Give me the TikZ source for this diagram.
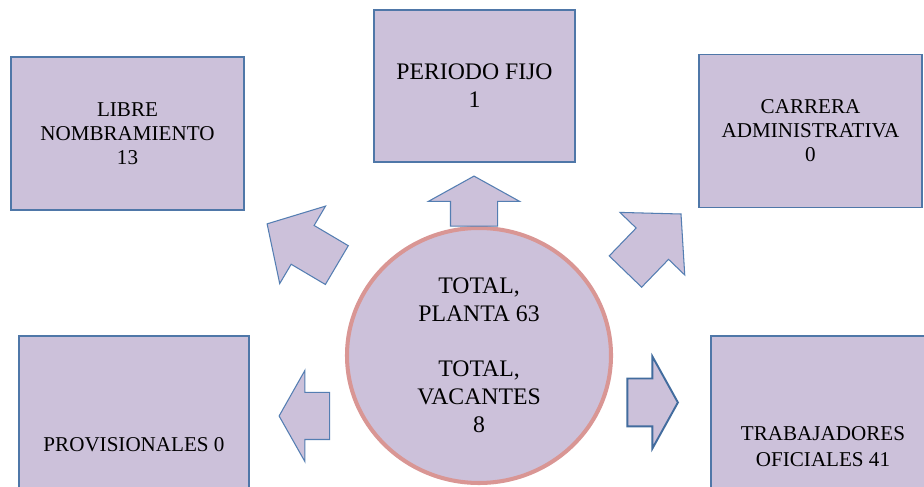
\documentclass[tikz,border=0pt]{standalone}
\usepackage{fontspec}
\setmainfont{Liberation Serif}
\usetikzlibrary{shapes.geometric}
\usetikzlibrary{shapes.arrows}

\definecolor{boxfill}{RGB}{204,193,218}
\definecolor{boxline}{RGB}{79,119,168}
\definecolor{arrowline}{RGB}{84,126,178}
\definecolor{arrowdark}{RGB}{66,108,158}
\definecolor{ringline}{RGB}{217,150,148}

\begin{document}
\begin{tikzpicture}[
    box/.style={draw=boxline, line width=1.1pt, fill=boxfill, align=center, inner sep=0pt, font=\fontsize{12pt}{13.7pt}\selectfont},
    bigtext/.style={font=\fontsize{13.5pt}{16pt}\selectfont},
    blockarrow/.style={single arrow, draw=arrowline, line width=0.6pt, fill=boxfill, inner xsep=0pt, inner ysep=0.46cm, single arrow head extend=0.44cm, anchor=tip}
  ]
    \path[use as bounding box, fill=white] (0,0) rectangle (18.48,9.74);

    \node[box, minimum width=4.66cm, minimum height=3.06cm] (nodeLibre) at (2.55,7.07) {LIBRE\\NOMBRAMIENTO\\13};
    \node[box, bigtext, minimum width=4.01cm, minimum height=3.03cm] (nodePeriodo) at (9.49,8.02) {PERIODO FIJO\\1};
    \node[box, minimum width=4.47cm, minimum height=3.06cm] (nodeCarrera) at (16.21,7.12) {CARRERA\\ADMINISTRATIVA\\0};
    \node[box, minimum width=4.59cm, minimum height=4.36cm] (nodeProv) at (2.68,0.84) {PROVISIONALES 0};
    \node[box, font=\fontsize{12pt}{14.8pt}\selectfont, minimum width=4.48cm, minimum height=4.44cm] (nodeTrab) at (16.46,0.80) {TRABAJADORES\\OFICIALES 41};

    \node[ellipse, bigtext, draw=ringline, line width=2.3pt, fill=boxfill, minimum width=5.28cm, minimum height=5.1cm, inner sep=0pt, align=center] (nodeTotal) at (9.58,2.63) {TOTAL,\\PLANTA 63\\[15pt]TOTAL,\\VACANTES\\8};

    \node[blockarrow, single arrow tip angle=122, minimum height=1cm, rotate=90] (arrowPeriodo) at (9.48,6.23) {};
    \node[blockarrow, single arrow tip angle=95, inner ysep=0.44cm, single arrow head extend=0.45cm, minimum height=1.62cm, rotate=149.4] (arrowLibre) at (5.33,5.27) {};
    \node[blockarrow, single arrow tip angle=95, inner ysep=0.44cm, single arrow head extend=0.45cm, minimum height=1.6cm, rotate=46] (arrowCarrera) at (13.63,5.47) {};
    \node[blockarrow, single arrow tip angle=121, minimum height=1.01cm, rotate=180] (arrowProv) at (5.57,1.42) {};
    \node[blockarrow, draw=arrowdark, line width=1.1pt, single arrow tip angle=122, minimum height=1.01cm] (arrowTrab) at (13.58,1.69) {};
\end{tikzpicture}
\end{document}
